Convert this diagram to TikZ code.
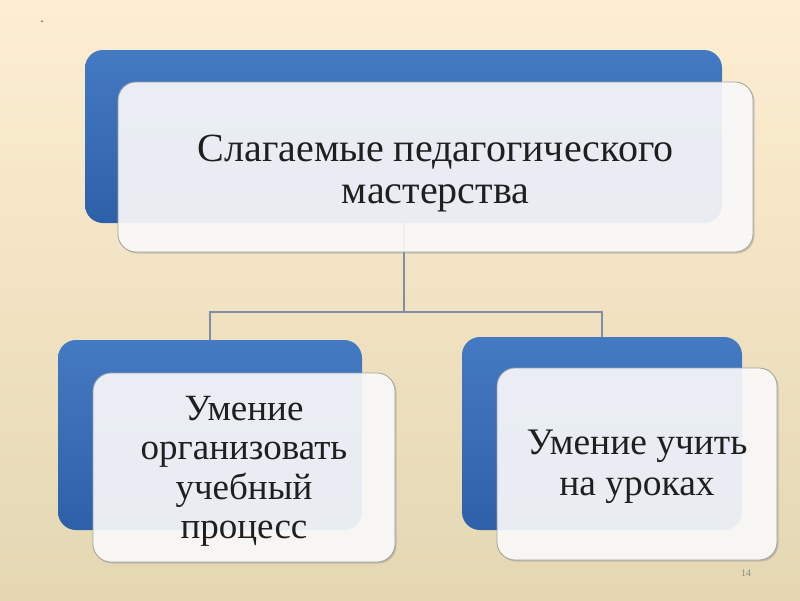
\documentclass[tikz,border=0pt]{standalone}
\usepackage{fontspec}
\setmainfont{Liberation Serif}
\usetikzlibrary{shadows}
\definecolor{bgtop}{RGB}{253,238,210}
\definecolor{bgbot}{RGB}{228,215,178}
\definecolor{bluetop}{RGB}{68,122,195}
\definecolor{bluebot}{RGB}{46,96,168}
\definecolor{linec}{RGB}{128,142,165}
\definecolor{boxline}{RGB}{160,160,160}
\tikzset{
  backbox/.style={rectangle, rounded corners=18pt, top color=bluetop, bottom color=bluebot, draw=none, inner sep=0pt},
  frontbox/.style={rectangle, rounded corners=18pt, fill=white, fill opacity=0.88, draw=boxline, line width=0.8pt, inner sep=0pt,
    drop shadow={opacity=0.35, shadow xshift=1.5pt, shadow yshift=-1.5pt}},
  boxtext/.style={align=center, inner sep=0pt, text=black!88},
  conn/.style={draw=linec, line width=2pt}
}
\begin{document}
\begin{tikzpicture}[x=1pt,y=-1pt]
\useasboundingbox (0,0) rectangle (800,600);
\shade[top color=bgtop, bottom color=bgbot] (0,0) rectangle (800,600);
\node[font=\fontsize{14}{14}\selectfont, text=black!70] (dot) at (42,22) {.};
% back boxes
\node[backbox, minimum width=637pt, minimum height=173pt] (topback) at (403.5,136.5) {};
\node[backbox, minimum width=304pt, minimum height=190pt] (leftback) at (210,435) {};
\node[backbox, minimum width=280pt, minimum height=193pt] (rightback) at (602,433.5) {};
% connectors
\coordinate (mid) at (403.5,312);
\draw[conn] (topback.south) -- (mid) -| (leftback.north);
\draw[conn] (mid) -| (rightback.north);
% front boxes
\node[frontbox, minimum width=635pt, minimum height=170pt] (top) at (435.5,167) {};
\node[frontbox, minimum width=302pt, minimum height=189pt] (left) at (244,467.5) {};
\node[frontbox, minimum width=280pt, minimum height=192pt] (right) at (637,464) {};
% texts
\node[boxtext, font=\fontsize{40}{42}\selectfont] (toptext) at ([yshift=-7pt]top.center) {Слагаемые педагогического\\мастерства};
\node[boxtext, font=\fontsize{37}{39.5}\selectfont] (lefttext) at ([yshift=-4pt]left.center) {Умение\\организовать\\учебный\\процесс};
\node[boxtext, font=\fontsize{37.5}{41}\selectfont] (righttext) at ([yshift=-3pt]right.center) {Умение учить\\на уроках};
\node[font=\fontsize{10}{10}\selectfont, text=black!45] (page) at (746,573) {14};
\end{tikzpicture}
\end{document}
